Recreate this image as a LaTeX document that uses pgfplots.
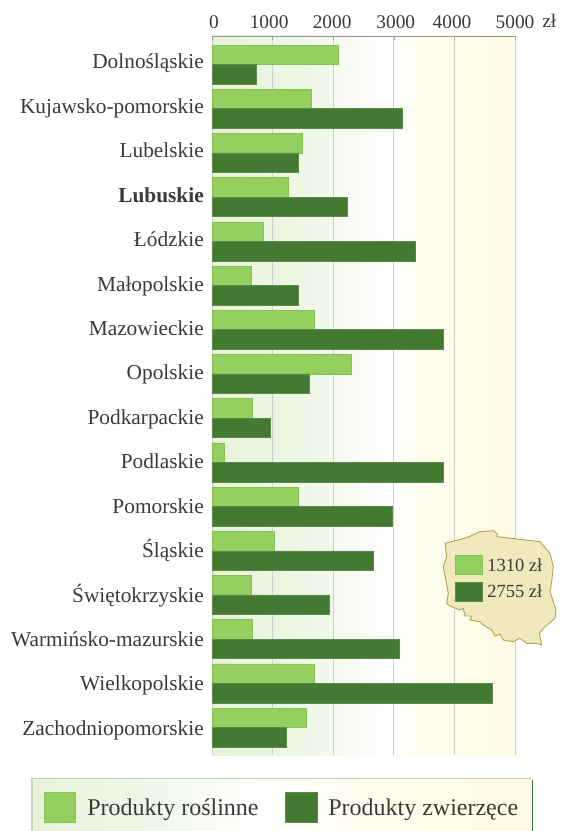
\documentclass[border=0pt]{standalone}
\usepackage{pgfplots}
\pgfplotsset{compat=1.18}
\usepackage{fontspec}
\setmainfont{Liberation Serif}
\definecolor{plant}{HTML}{93D05F}
\definecolor{plantedge}{HTML}{85C255}
\definecolor{animal}{HTML}{437A32}
\definecolor{animaledge}{HTML}{5B8A4C}
\definecolor{txt}{HTML}{3A3A3A}
\pgfdeclarehorizontalshading{bgshade}{100bp}{
  rgb(0bp)=(0.863,0.925,0.784);
  rgb(20bp)=(0.898,0.945,0.835);
  rgb(40bp)=(0.935,0.965,0.90);
  rgb(54bp)=(1,1,1);
  rgb(60bp)=(1,0.992,0.93);
  rgb(80bp)=(1,0.98,0.89);
  rgb(100bp)=(1,0.97,0.85)}
\pgfdeclarehorizontalshading{legshade}{100bp}{
  rgb(0bp)=(0.863,0.925,0.784);
  rgb(20bp)=(0.898,0.945,0.835);
  rgb(35bp)=(0.935,0.965,0.90);
  rgb(48bp)=(1,1,1);
  rgb(58bp)=(1,0.992,0.93);
  rgb(80bp)=(1,0.98,0.89);
  rgb(100bp)=(1,0.97,0.85)}
\pgfplotstableread{
idx plant animal
0 2090 730
1 1640 3140
2 1490 1425
3 1260 2225
4 840 3360
5 640 1430
6 1690 3820
7 2300 1610
8 670 965
9 205 3820
10 1430 2970
11 1020 2660
12 640 1940
13 670 3090
14 1690 4630
15 1560 1230
}\datatable
\begin{document}
\begin{tikzpicture}[x=0.75pt,y=-0.75pt]
\path[use as bounding box] (0,0) rectangle (562,831);
\fill[shading=bgshade] (212,36) rectangle (515,755);
\begin{axis}[
  at={(159pt,-566.25pt)}, anchor=south west,
  scale only axis, width=227.25pt, height=539.25pt,
  xbar=0pt, bar width=0.44, y dir=reverse,
  xmin=0, xmax=5000, ymin=-0.645, ymax=15.62,
  xtick={0,1000,2000,3000,4000,5000},
  xticklabels={\kern3pt 0,1000\kern5.2pt,2000\kern1.6pt,\kern3pt 3000,4000\kern3.6pt,5000},
  xticklabel pos=top,
  xticklabel style={font=\fontsize{14.5pt}{16pt}\selectfont,text=txt,anchor=base,inner sep=0pt,yshift=6pt},
  x tick style={draw=gray!70},
  ytick={0,1.005,2.01,3.015,4.02,5.025,6.03,7.035,8.04,9.045,10.05,11.055,12.06,13.065,14.07,15.075},
  yticklabels={Dolnośląskie,Kujawsko-pomorskie,Lubelskie,\textbf{Lubuskie},Łódzkie,Małopolskie,Mazowieckie,Opolskie,Podkarpackie,Podlaskie,Pomorskie,Śląskie,Świętokrzyskie,Warmińsko-mazurskie,Wielkopolskie,Zachodniopomorskie},
  yticklabel style={font=\fontsize{16pt}{18pt}\selectfont,text=txt,anchor=base east,inner sep=0pt,xshift=-3pt,yshift=-3.3pt},
  y tick style={draw=none},
  major tick length=3pt,
  xmajorgrids, grid style={draw=black!20,line width=0.6pt},
  axis y line*=left,
  axis x line*=top,
  y axis line style={draw=none},
  x axis line style={draw=gray!80,-},
  clip=false,
]
\addplot[fill=plant,draw=plantedge,line width=0.4pt,bar shift=-0.22] table[x=plant,y=idx]{\datatable};
\addplot[fill=animal,draw=animaledge,line width=0.4pt,bar shift=0.22] table[x=animal,y=idx]{\datatable};
\end{axis}
\node[anchor=base west,font=\fontsize{14.5pt}{16pt}\selectfont,text=txt,inner sep=0pt] at (542,28) {zł};
% map
\draw[line width=0.7pt,line join=round,fill={rgb,255:red,241;green,233;blue,190},draw={rgb,255:red,180;green,165;blue,85}]
 (445,543.3)--(466.7,537.7)--(480,531.7)--(493.3,530.7)--(497.3,534)--(496.7,536.7)--(520,539.3)--(540,541.7)--(550,553.3)--(553.3,566.7)--(551.7,581.7)--(550,591.7)--(556,610)--(555,618.3)--(543.3,628.3)--(539.3,633.3)--(541.7,645)--(536.7,643.3)--(526.7,643.3)--(520,638.3)--(513.3,641.7)--(503.3,640)--(500,634)--(495,636)--(491.7,630)--(483.3,625)--(480,621.7)--(470,620)--(471.7,616)--(465,616)--(463.3,608.3)--(460,610)--(451.7,606.7)--(448.3,605)--(446.7,603.3)--(448.3,593.3)--(443.3,566.7)--(446.7,556.7)--cycle;
\fill[plant,draw=plantedge,line width=0.4pt] (455,555) rectangle (482,574);
\fill[animal,draw=animaledge,line width=0.4pt] (455,582) rectangle (482,601);
\node[anchor=base west,font=\fontsize{13.9pt}{15pt}\selectfont,text=txt,inner sep=0pt] at (487,571.5) {1310 zł};
\node[anchor=base west,font=\fontsize{13.9pt}{15pt}\selectfont,text=txt,inner sep=0pt] at (487,597.7) {2755 zł};
% legend
\fill[shading=legshade] (32,779) rectangle (531,831);
\draw[draw={rgb,255:red,195;green,215;blue,180},line width=0.8pt] (32,831)--(32,778.5)--(531,778.5);
\draw[draw=animal,line width=1.2pt] (532.5,780)--(532.5,831);
\fill[plant,draw=plantedge,line width=0.6pt] (44.3,792) rectangle (75.7,822);
\fill[animal,draw=animaledge,line width=0.6pt] (285,792) rectangle (317,822);
\node[anchor=base west,font=\fontsize{18pt}{20pt}\selectfont,text=txt,inner sep=0pt] at (87,815) {Produkty roślinne};
\node[anchor=base west,font=\fontsize{18pt}{20pt}\selectfont,text=txt,inner sep=0pt] at (328,815) {Produkty zwierzęce};
\end{tikzpicture}
\end{document}
